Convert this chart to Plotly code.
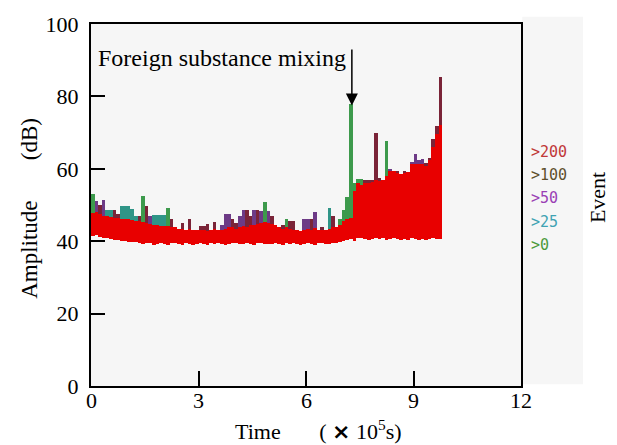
import plotly.graph_objects as go

# ---- data (time bins of 0.1 x 10^5 s) ----
bin_width = 0.1
red_top = [47.8, 48, 47.5, 47, 47, 46.8, 46.5, 46.5, 46.2, 46,
           46, 45.8, 45.6, 45.5, 45.2, 45, 44.8, 44.6, 44.5, 44.3,
           44.3, 44.2, 44, 43.8, 43.5, 43.4, 43.2, 43.5, 43, 43,
           43.2, 43, 42.8, 43, 43.4, 43, 43.2, 43.5, 43.8, 44,
           43.5, 43.8, 44.2, 44, 44.4, 44.6, 44.8, 45, 45.2, 45,
           44.8, 44.5, 43.8, 43.5, 43.8, 43.5, 43.2, 43, 42.8, 43,
           43.4, 43.2, 43.6, 43, 43.2, 43, 43.4, 43.8, 44, 44.5,
           45.5, 46, 46.5, 54, 56, 55.5, 56, 56, 56.5, 57,
           56.5, 57, 58, 59.5, 59.5, 58.8, 58.5, 58.8, 59, 61.4,
           61.4, 61.4, 61.4, 61, 62.5, 66, 69.5, 72]
red_bot = [41.5, 41.8, 41.2, 41, 40.8, 40.5, 40.3, 40.2, 40, 40,
           39.8, 39.8, 39.7, 39.5, 39.2, 39.6, 39.4, 39, 39.3, 39.5,
           39.2, 39, 39.4, 39.6, 39.2, 39, 39.5, 39.3, 38.9, 39.2,
           39.5, 39.1, 39, 39.4, 39.2, 39.6, 39.3, 39, 39.2, 39.5,
           39.4, 39.1, 39.3, 39.6, 39.2, 39, 39.4, 39.5, 39.2, 39.1,
           39.3, 39.6, 39.2, 39, 39.4, 39.2, 39.5, 39.1, 39, 39.3,
           39.5, 39.2, 39, 39.4, 39.6, 39.3, 39.1, 39.4, 39.6, 39.8,
           40, 40.2, 40.5, 40, 40.8, 41, 40.5, 40.2, 40.6, 41,
           40.5, 40.8, 40.3, 40.6, 40.8, 40.5, 40.2, 40.6, 40.4, 40.8,
           40.5, 40.2, 40.6, 40.3, 40.5, 40.8, 40.6, 40.5]
# cap top (0 = none) and cap level: 0 ">0", 1 ">25", 2 ">50", 3 ">100"
cap_top = [53, 51, 50, 51.4, 48.6, 48.6, 48.6, 47.5, 49.7, 49.7,
           49.7, 48.8, 47, 47, 52.4, 49.7, 47, 47.3, 47.3, 47.3,
           47.3, 49.2, 46, 0, 0, 45, 0, 46.2, 0, 0,
           44.3, 44.3, 44.8, 0, 45.4, 0, 44.5, 47.5, 47.5, 46,
           45, 47, 48.6, 48.6, 47, 48.6, 48.6, 48.4, 50.8, 48.4,
           47, 0, 0, 44.5, 46.2, 45.5, 45.5, 0, 0, 46.2,
           46.2, 46.2, 48, 0, 44, 0, 49.2, 47, 0, 46,
           48.6, 52.2, 78, 56, 57.3, 57.3, 57, 57, 57, 70,
           57.5, 0, 67.7, 60, 0, 59.5, 0, 59.5, 0, 62,
           64, 62.5, 62.8, 61.5, 63, 68.2, 71.7, 85.3]
cap_level = [0, 2, 3, 2, 1, 1, 3, 3, 1, 1,
             1, 1, 1, 3, 0, 3, 2, 1, 1, 1,
             1, 0, 3, 3, 3, 3, 3, 3, 3, 3,
             3, 3, 3, 3, 3, 3, 2, 2, 2, 3,
             3, 2, 2, 3, 3, 2, 3, 2, 0, 2,
             3, 3, 3, 3, 0, 3, 3, 3, 3, 2,
             2, 3, 2, 3, 3, 3, 1, 3, 3, 0,
             0, 0, 0, 0, 0, 0, 3, 3, 3, 3,
             3, 3, 0, 2, 3, 3, 3, 3, 3, 2,
             2, 2, 2, 3, 3, 3, 3, 3]
event_labels = [">200", ">100", ">50", ">25", ">0"]
event_label_colors = ["#c03838", "#5e4f2c", "#9a3fb5", "#3fa3b3", "#4c9a3c"]
cap_colors = ["#3d9a4c", "#2f9587", "#6d3a86", "#7a2438"]
red_color = "#e80000"
x_ticks = [0, 3, 6, 9, 12]
y_ticks = [0, 20, 40, 60, 80, 100]

n = len(red_top)
xs = [bin_width * i + bin_width / 2 for i in range(n)]

fig = go.Figure()
fig.add_trace(go.Bar(x=xs, base=red_bot, y=[t - b for t, b in zip(red_top, red_bot)],
                     width=bin_width, marker=dict(color=red_color, line=dict(width=0)),
                     showlegend=False, hoverinfo="skip"))
for lvl, col in enumerate(cap_colors):
    cx, cb, ch = [], [], []
    for i in range(n):
        if cap_top[i] > 0 and cap_level[i] == lvl:
            cx.append(xs[i]); cb.append(red_top[i]); ch.append(cap_top[i] - red_top[i])
    fig.add_trace(go.Bar(x=cx, base=cb, y=ch, width=bin_width,
                         marker=dict(color=col, line=dict(width=0)),
                         showlegend=False, hoverinfo="skip"))

serif = "Liberation Serif, Times New Roman, serif"
fig.update_layout(
    width=617, height=445,
    margin=dict(l=91, r=96, t=18, b=59),
    paper_bgcolor="white", plot_bgcolor="#f6f6f6",
    barmode="overlay", bargap=0,
    font=dict(family=serif, size=23, color="black"),
    xaxis=dict(range=[0, 12], tickvals=x_ticks, ticks="inside", ticklen=15,
               tickwidth=1.5, tickcolor="black", showgrid=False, zeroline=False,
               showline=True, linecolor="black", linewidth=2, mirror=True,
               showticklabels=False),
    yaxis=dict(range=[0, 100], tickvals=y_ticks, ticks="inside", ticklen=14,
               tickwidth=1.5, tickcolor="black", showgrid=False, zeroline=False,
               showline=True, linecolor="black", linewidth=2, mirror=True,
               tickfont=dict(family=serif, size=22), ticklabelstandoff=6),
)

# x tick labels
for v in x_ticks:
    fig.add_annotation(x=v, y=0, xref="x", yref="paper", yanchor="top", xanchor="center",
                       yshift=0, text=str(v), showarrow=False, font=dict(family=serif, size=22))

# gray strip on the right
fig.add_shape(type="rect", xref="paper", yref="paper", x0=1.003, x1=1.144, y0=0.005, y1=1.02,
              fillcolor="#f6f6f6", line=dict(width=0), layer="below")

# arrow annotation
fig.add_annotation(x=7.28, y=77.5, xref="x", yref="y", ax=0, ay=-70, axref="pixel", ayref="pixel",
                   showarrow=True, arrowhead=2, arrowsize=1.6, arrowwidth=1.5, arrowcolor="black", text=" ")
fig.add_annotation(x=7.18, y=90.5, xref="x", yref="y", xanchor="right", yanchor="middle",
                   text="Foreign substance mixing", showarrow=False,
                   font=dict(family=serif, size=24))

# axis titles
fig.add_annotation(x=0.528, y=-0.122, xref="paper", yref="paper", xanchor="center", yanchor="middle",
                   text="Time&nbsp;&nbsp;&nbsp;&nbsp;&nbsp;&nbsp;&nbsp;(&nbsp;<b><span style='font-family:DejaVu Sans'>×</span></b>&nbsp;10<sup>5</sup>s)",
                   showarrow=False, font=dict(family=serif, size=22))
fig.add_annotation(x=-0.142, y=0.492, xref="paper", yref="paper", xanchor="center", yanchor="middle",
                   text="Amplitude&nbsp;&nbsp;&nbsp;&nbsp;&nbsp;&nbsp;&nbsp;(dB)", textangle=-90,
                   showarrow=False, font=dict(family=serif, size=23))

# event labels
label_py = [148, 171.5, 195, 219, 243]
for lab, col, py in zip(event_labels, event_label_colors, label_py):
    fig.add_annotation(x=(529 - 91) / 430, y=(386 - py) / 368, xref="paper", yref="paper",
                       xanchor="left", yanchor="middle", text=lab, showarrow=False,
                       font=dict(family="DejaVu Sans Mono, monospace", size=15, color=col))
fig.add_annotation(x=(597 - 91) / 430, y=(386 - 195) / 368, xref="paper", yref="paper",
                   xanchor="center", yanchor="middle", text="Event", textangle=-90,
                   showarrow=False, font=dict(family=serif, size=22))

fig.write_html("out.html")
